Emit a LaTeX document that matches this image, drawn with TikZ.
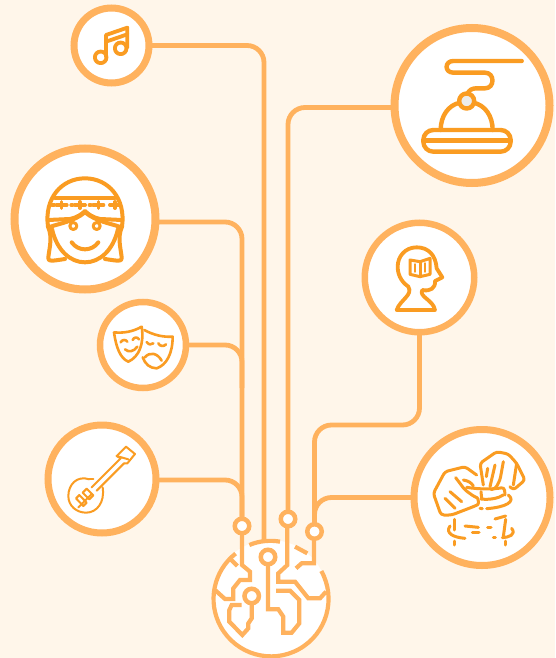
\documentclass[tikz,border=0pt]{standalone}
\definecolor{bgc}{HTML}{FFF6EA}
\definecolor{linec}{HTML}{FFB25E}
\definecolor{iconc}{HTML}{FA9C22}
\tikzset{
  disc/.style={circle,draw=linec,fill=white,inner sep=0pt,outer sep=0pt},
  pin/.style={circle,draw=linec,fill=white,line width=4.5pt,minimum size=14.5pt,inner sep=0pt,outer sep=0pt},
  conn/.style={draw=linec,line width=4.8pt,rounded corners=17pt},
  trace/.style={draw=linec,line width=4.2pt,line join=miter},
  ico/.style={draw=iconc,line width=#1,line cap=round,line join=round},
  ico/.default=3pt,
  zoomed/.style={x=0.33333pt,y=-0.33333pt}
}
\begin{document}
\begin{tikzpicture}[x=1pt,y=-1pt]
\useasboundingbox (0,0) rectangle (555,658);
\fill[bgc] (0,0) rectangle (555,658);
% globe
\fill[white] (270.5,597.5) circle[radius=57.5pt];
\begin{scope}[shift={(200,500)},zoomed]
 \draw[trace] (364,213) arc[start angle=29,end angle=-232,radius=57.5pt];
 \draw[trace] (148,135) .. controls (178,122) and (212,120) .. (240,125);
 \draw[trace] (285,140) -- (322,160);
 \draw[trace] (92,178) -- (112,198);
 \draw[trace] (45,270) -- (75,297) -- (100,297) -- (100,265) -- (120,240) -- (150,240) -- (150,215) -- (126,195) -- (126,100);
 \draw[trace] (125,315) -- (95,315) -- (88,330) -- (88,365) -- (127,405) -- (145,385) -- (145,370) -- (155,355) -- (155,310);
 \draw[trace] (204,195) -- (204,328) -- (235,328) -- (250,350) -- (250,398) -- (275,398) -- (298,370) -- (298,300) -- (270,272) -- (228,272);
 \draw[trace] (262,80) -- (262,195) -- (235,220) -- (235,245) -- (285,245) -- (325,295) -- (360,295) -- (378,275);
 \draw[trace] (342,115) -- (342,190) -- (305,190) -- (288,205);
\end{scope}
% pins
\node[pin] (pinA) at (242,526) {};
\node[pin] (pinB) at (268,557) {};
\node[pin] (pinC) at (288,519) {};
\node[pin] (pinD) at (314.5,531.5) {};
\node[pin] (pinE) at (251.7,596) {};
\coordinate (topjoin) at (264,542);
\coordinate (masksjoin) at (242,388);
\coordinate (headturn) at (314.5,425);
% discs
\node[disc,line width=7pt,minimum size=75pt] (music) at (111.5,45.5) {};
\node[disc,line width=8pt,minimum size=155pt] (bell) at (472,105.5) {};
\node[disc,line width=8pt,minimum size=141pt] (face) at (85,219) {};
\node[disc,line width=6.5pt,minimum size=86pt] (masks) at (143,345) {};
\node[disc,line width=7pt,minimum size=108pt] (mandolin) at (102,479) {};
\node[disc,line width=6.5pt,minimum size=109.5pt] (head) at (419.5,277.5) {};
\node[disc,line width=7pt,minimum size=136pt] (hands) at (482,497.5) {};
% connectors
\draw[conn] (music.east) -| (topjoin);
\draw[conn] ([yshift=-2pt]bell.west) -| (pinC);
\draw[conn] ([yshift=-3pt]face.east) -| (pinA);
\draw[conn] (masks.east) -| (masksjoin);
\draw[conn] ([yshift=-1pt]mandolin.east) -| (pinA);
\draw[conn] (head.south) |- (headturn) -- (pinD);
\draw[conn] (hands.west) -| (pinD);
% music icon
\begin{scope}[shift={(70,5)},zoomed,ico=3.8pt]
 \draw (92,157) circle[radius=5.8pt];
 \draw (152,130) circle[radius=5.8pt];
 \draw (108,155) -- (108,90) -- (172,68) -- (172,128);
 \draw (108,110) -- (172,88);
\end{scope}
% bell icon
\begin{scope}[shift={(400,30)},zoomed,ico=4.4pt]
 \draw (365,93) -- (160,93) .. controls (133,93) and (133,128) .. (160,128) -- (255,128) .. controls (285,128) and (285,175) .. (255,175) -- (228,175) .. controls (215,175) and (205,182) .. (203,192);
 \draw (122,300) .. controls (122,258) and (145,225) .. (180,218);
 \draw (278,300) .. controls (278,258) and (255,225) .. (220,218);
 \draw[fill=gray!15] (200,213) circle[radius=7.5pt];
 \draw[rounded corners=10pt] (70,300) rectangle (332,365);
 \draw (72,332) -- (330,332);
\end{scope}
% face icon
\begin{scope}[shift={(20,155)},zoomed,ico=4pt]
 \draw (84,215) .. controls (72,130) and (125,70) .. (195,70) .. controls (265,70) and (318,130) .. (306,215);
 \draw (105,130) -- (285,130);
 \draw (84,195) -- (150,192) .. controls (170,188) and (185,178) .. (195,168) .. controls (205,178) and (220,188) .. (240,192) -- (306,195);
 \draw (92,215) .. controls (120,205) and (160,200) .. (195,172) .. controls (230,200) and (270,205) .. (298,215);
 \foreach \cx in {125,180,235,285} {
  \draw[line width=3.2pt] (\cx,140) -- (\cx,160);
  \draw[line width=3.2pt] (\cx-16,150) -- (\cx+16,150);
 }
 \draw[line width=3.2pt] (95,150) -- (103,150) (153,150) -- (158,150) (208,150) -- (213,150);
 \draw[line width=3pt] (160,213) circle[radius=3.5pt];
 \draw[line width=3pt] (230,213) circle[radius=3.5pt];
 \draw (155,262) .. controls (175,290) and (215,290) .. (235,262);
 \draw (96,222) .. controls (110,285) and (150,322) .. (195,322) .. controls (240,322) and (280,285) .. (294,222);
 \draw (84,215) .. controls (100,250) and (85,290) .. (85,310) .. controls (85,320) and (95,318) .. (135,312);
 \draw (306,215) .. controls (290,250) and (305,290) .. (305,310) .. controls (305,320) and (295,318) .. (255,312);
\end{scope}
% masks icon
\begin{scope}[shift={(100,300)},zoomed,ico=2.6pt]
 \draw (42,97) .. controls (70,100) and (100,95) .. (125,80) .. controls (133,130) and (118,170) .. (85,185) .. controls (60,175) and (48,140) .. (42,97);
 \draw (62,127) .. controls (66,118) and (78,118) .. (82,125);
 \draw (98,120) .. controls (102,111) and (112,110) .. (117,118);
 \draw (75,148) .. controls (85,158) and (102,155) .. (112,140);
 \draw (133,90) .. controls (160,105) and (190,112) .. (218,110) .. controls (218,160) and (200,195) .. (170,205) .. controls (150,205) and (135,192) .. (128,172);
 \draw (140,126) .. controls (146,135) and (155,135) .. (160,130);
 \draw (175,130) .. controls (180,140) and (192,140) .. (198,133);
 \draw (135,172) .. controls (148,155) and (172,158) .. (185,182);
\end{scope}
% mandolin icon
\begin{scope}[shift={(50,430)},zoomed,ico=2pt]
 \draw (118,148) .. controls (80,135) and (55,165) .. (55,198) .. controls (55,228) and (80,248) .. (108,248) .. controls (140,248) and (165,218) .. (158,172);
 \draw (118,148) -- (130,148);
 \draw (125,172) -- (212,85);
 \draw (140,182) -- (222,100);
 \draw (212,85) -- (200,78) -- (228,50) -- (255,72) -- (232,100) -- (222,100);
 \draw (200,78) -- (235,88);
 \draw (110,176) -- (98,188) -- (118,208) -- (130,196) -- cycle;
 \draw (125,192) -- (85,232);
 \draw (88,195) -- (78,205) -- (100,228) -- (110,218) -- cycle;
\end{scope}
% head icon
\begin{scope}[shift={(365,225)},zoomed,ico=3.8pt]
 \draw (95,255) -- (210,255) .. controls (205,225) and (160,215) .. (172,195) .. controls (195,200) and (212,190) .. (210,168) -- (232,157) -- (215,130) .. controls (212,90) and (190,67) .. (155,67) .. controls (120,67) and (98,95) .. (98,125) .. controls (98,155) and (115,175) .. (130,185) .. controls (145,210) and (105,225) .. (95,255) -- cycle;
 \draw[line width=3pt] (135,105) -- (165,110) -- (195,100) -- (195,148) -- (165,155) -- (135,148) -- cycle;
 \draw[line width=3pt] (165,110) -- (165,155);
 \draw[line width=2.4pt] (150,118) -- (150,140);
 \draw[line width=2.4pt] (180,115) -- (180,140);
\end{scope}
% hands icon
\begin{scope}[shift={(415,430)},zoomed,ico=3pt,rounded corners=3pt]
 \draw (185,135) -- (150,110) -- (90,125) -- (55,190) -- (78,255) -- (110,255) -- (180,228) .. controls (192,222) and (190,205) .. (178,200) -- (150,180) -- (122,143);
 \draw (90,205) -- (120,235);
 \draw (105,185) -- (140,215);
 \draw (145,150) -- (165,155) -- (175,168);
 \draw (205,165) -- (195,100) -- (245,65) -- (280,72) -- (305,100) -- (330,150) -- (295,180) -- (285,170);
 \draw (265,95) -- (255,150) -- (240,178) -- (228,178);
 \draw (240,105) -- (225,170);
 \draw (218,115) -- (214,140);
 \draw (305,100) -- (295,165);
 \draw (155,172) .. controls (190,178) and (235,178) .. (268,172) -- (270,195);
 \draw (198,207) .. controls (225,210) and (250,205) .. (265,195);
 \draw (280,195) .. controls (305,215) and (270,232) .. (215,236);
 \draw (195,235) -- (202,236);
 \draw (198,185) -- (200,205);
 \draw (240,267) -- (272,258);
 \draw (118,268) -- (118,300);
 \draw (150,288) -- (190,292);
 \draw (218,292) -- (228,292);
 \draw (272,268) -- (265,320);
 \draw (105,288) .. controls (90,310) and (115,322) .. (150,325);
 \draw (290,295) .. controls (305,315) and (280,322) .. (262,323);
 \draw (118,333) -- (118,345);
 \draw (272,333) -- (272,345);
 \draw (172,308) -- (192,308);
 \draw (235,323) -- (241,323);
\end{scope}
\end{tikzpicture}
\end{document}
